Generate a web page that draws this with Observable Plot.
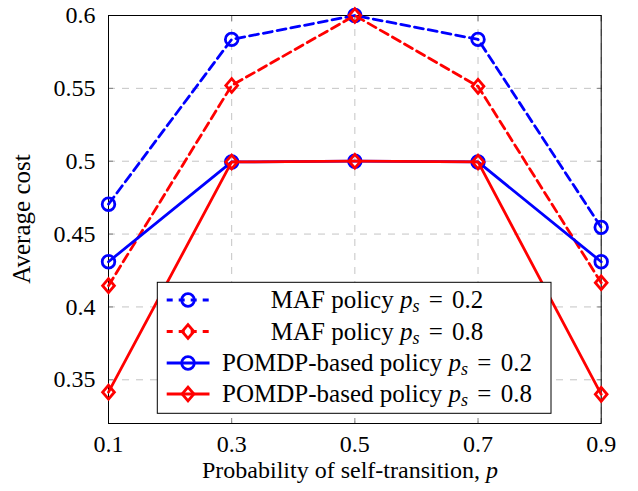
<!DOCTYPE html>
<html>
<head>
<meta charset="utf-8">
<script src="https://cdn.jsdelivr.net/npm/d3@7"></script>
<script src="https://cdn.jsdelivr.net/npm/@observablehq/plot@0.6"></script>
<style>
  html, body { margin: 0; padding: 0; background: #fff; }
  #chart { width: 638px; height: 491px; }
</style>
</head>
<body>
<div id="chart"></div>
<script>
// ---- data ----
const probs = [0.1, 0.3, 0.5, 0.7, 0.9];
const mafLow = [0.4705, 0.5836, 0.6, 0.5836, 0.4546];      // MAF policy ps = 0.2
const mafHigh = [0.4146, 0.552, 0.6, 0.5514, 0.4166];      // MAF policy ps = 0.8
const pomdpLow = [0.431, 0.4995, 0.5, 0.4995, 0.431];      // POMDP-based policy ps = 0.2
const pomdpHigh = [0.3415, 0.4995, 0.5, 0.4995, 0.34];     // POMDP-based policy ps = 0.8
const xTicks = [0.1, 0.3, 0.5, 0.7, 0.9];
const yTicks = [0.35, 0.4, 0.45, 0.5, 0.55, 0.6];
const seriesNames = ["MAF policy", "MAF policy", "POMDP-based policy", "POMDP-based policy"];
const seriesPs = ["0.2", "0.8", "0.2", "0.8"];
const xLabel = "Probability of self-transition, ";
const yLabel = "Average cost";

const BLUE = "#0000ff", RED = "#ff0000";
const styles = [
  {color: BLUE, dash: "9,5", symbol: "circle"},
  {color: RED, dash: "9,5", symbol: "diamond"},
  {color: BLUE, dash: null, symbol: "circle"},
  {color: RED, dash: null, symbol: "diamond"}
];
const allSeries = [mafLow, mafHigh, pomdpLow, pomdpHigh];

const diamond = {
  draw(context, size) {
    const s = Math.sqrt(size / Math.PI);
    context.moveTo(0, -s * 1.15);
    context.lineTo(s * 0.98, 0);
    context.lineTo(0, s * 1.15);
    context.lineTo(-s * 0.98, 0);
    context.closePath();
  }
};

const rows = [];
allSeries.forEach((vals, i) => vals.forEach((v, j) => rows.push({p: probs[j], v, s: i})));

const FONT = "Liberation Serif";
const gridStyle = {stroke: "#c4c4c4", strokeOpacity: 1, strokeDasharray: "7,7", strokeWidth: 1};

const marks = [
  Plot.gridX(xTicks, gridStyle),
  Plot.gridY(yTicks, gridStyle),
  Plot.axisX(xTicks, {tickSize: 0, tickPadding: 11, fontSize: 24, fontFamily: FONT, tickFormat: d => d.toFixed(1), label: null}),
  Plot.axisY(yTicks, {tickSize: 0, tickPadding: 13, fontSize: 24, fontFamily: FONT, tickFormat: d => String(d), label: null}),
  Plot.axisX(xTicks, {anchor: "bottom", tickSize: -5, tickFormat: () => "", stroke: "#808080", label: null}),
  Plot.axisX(xTicks, {anchor: "top", tickSize: -5, tickFormat: () => "", stroke: "#808080", label: null}),
  Plot.axisY(yTicks, {anchor: "left", tickSize: -5, tickFormat: () => "", stroke: "#808080", label: null}),
  Plot.axisY(yTicks, {anchor: "right", tickSize: -5, tickFormat: () => "", stroke: "#808080", label: null}),
  Plot.frame({stroke: "black", strokeWidth: 1})
];

allSeries.forEach((vals, i) => {
  const st = styles[i];
  const data = rows.filter(r => r.s === i);
  marks.push(Plot.line(data, {x: "p", y: "v", stroke: st.color, strokeWidth: 2.8,
    strokeDasharray: st.dash || undefined, strokeLinejoin: "round"}));
  marks.push(Plot.dot(data, {x: "p", y: "v", stroke: st.color, fill: "none", strokeWidth: 2.8,
    r: st.symbol === "circle" ? 6.3 : 6, symbol: st.symbol === "circle" ? "circle" : diamond}));
});

const chart = Plot.plot({
  width: 638,
  height: 491,
  marginLeft: 108,
  marginRight: 37.3,
  marginTop: 15,
  marginBottom: 68,
  x: {domain: [0.1, 0.9]},
  y: {domain: [0.32, 0.6]},
  style: {background: "white", color: "black", fontFamily: FONT, fontSize: "24px"},
  marks
});

const svg = d3.select(chart);
svg.attr("font-family", FONT).attr("font-size", 24);

// axis titles
svg.append("text")
  .attr("transform", "translate(30,219) rotate(-90)")
  .attr("text-anchor", "middle")
  .attr("font-family", FONT).attr("font-size", 25).attr("fill", "black")
  .text(yLabel);

const xl = svg.append("text")
  .attr("x", 350).attr("y", 478)
  .attr("text-anchor", "middle")
  .attr("font-family", FONT).attr("font-size", 24).attr("fill", "black");
xl.append("tspan").text(xLabel);
xl.append("tspan").attr("font-style", "italic").text("p");

// legend
const lg = svg.append("g");
lg.append("rect").attr("x", 157.3).attr("y", 282.3).attr("width", 393.7).attr("height", 131)
  .attr("fill", "white").attr("stroke", "black").attr("stroke-width", 1);
const rowY = [300, 331.5, 363, 394];
const symCircle = d3.symbol(d3.symbolCircle, Math.PI * 6.3 * 6.3);
const symDiamond = d3.symbol(diamond, Math.PI * 36);
seriesNames.forEach((name, i) => {
  const st = styles[i];
  const y = rowY[i];
  lg.append("line").attr("x1", 166.7).attr("x2", 209.5).attr("y1", y).attr("y2", y)
    .attr("stroke", st.color).attr("stroke-width", 2.8)
    .attr("stroke-dasharray", st.dash ? "6,6" : null);
  lg.append("path").attr("d", st.symbol === "circle" ? symCircle() : symDiamond())
    .attr("transform", `translate(188,${y})`)
    .attr("fill", "none").attr("stroke", st.color).attr("stroke-width", 2.8);
  const t = lg.append("text").attr("x", 377).attr("y", y + 8).attr("text-anchor", "middle")
    .attr("font-family", FONT).attr("font-size", 25).attr("fill", "black");
  t.append("tspan").text(name + " ");
  t.append("tspan").attr("font-style", "italic").text("p");
  t.append("tspan").attr("font-style", "italic").attr("font-size", 18).attr("dy", 4).text("s");
  t.append("tspan").attr("dy", -4).attr("dx", 3).text(" = ");
  t.append("tspan").attr("dx", 3).text(seriesPs[i]);
});

document.getElementById("chart").appendChild(chart);
</script>
</body>
</html>
